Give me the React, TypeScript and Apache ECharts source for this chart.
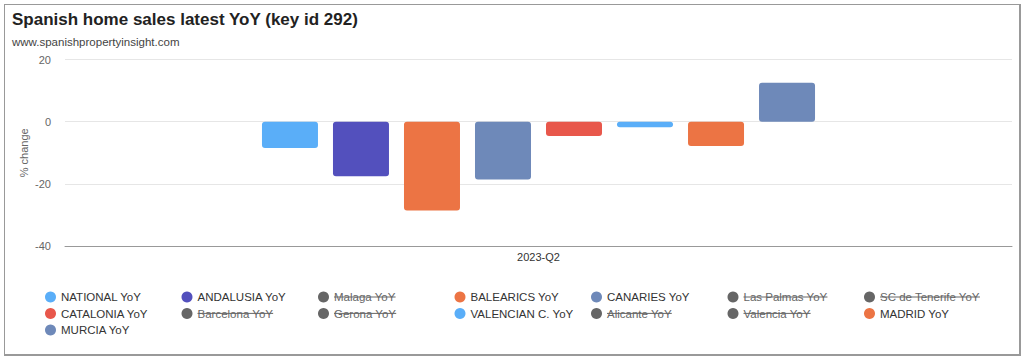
import React, { useEffect, useRef } from "react";
import * as echarts from "echarts";

const categories = ["2023-Q2"];
const seriesNames = [
  "NATIONAL YoY",
  "ANDALUSIA YoY",
  "Malaga YoY",
  "BALEARICS YoY",
  "CANARIES YoY",
  "Las Palmas YoY",
  "SC de Tenerife YoY",
  "CATALONIA YoY",
  "Barcelona YoY",
  "Gerona YoY",
  "VALENCIAN C. YoY",
  "Alicante YoY",
  "Valencia YoY",
  "MADRID YoY",
  "MURCIA YoY",
];
const seriesValues: (number | null)[] = [
  -8.5, -17.6, null, -28.6, -18.6, null, null, -4.6, null, null, -1.8, null, null, -7.8, 12.5,
];
const seriesVisible = [
  true, true, false, true, true, false, false, true, false, false, true, false, false, true, true,
];
const seriesColors = [
  "#5aaef8", "#5350bd", "#2bc76e", "#ec7444", "#6e89b9", "#d568fb", "#2ee0ca",
  "#e8574b", "#feb56a", "#91e8e1", "#5aaef8", "#544fc5", "#00e272", "#ec7444", "#6e89b9",
];
const yTicks = { min: -40, max: 20, interval: 20 };

const FONT = "'Liberation Sans', Arial, Helvetica, sans-serif";
const LEG_FS = 11.5;
const LEG_LEFT = 45;
const LEG_TOP = 290;
const COL_W = 136.5;
const ROW_H = 16.4;
const ICON = 11;
const TEXT_W = 118;
const LEG_GAP = COL_W - ICON - 5 - TEXT_W;

export default function App() {
  const ref = useRef<HTMLDivElement>(null);
  useEffect(() => {
    if (!ref.current) return;
    const chart = echarts.init(ref.current, undefined, { renderer: "svg" });

    const canvas = document.createElement("canvas");
    const ctx = canvas.getContext("2d")!;
    ctx.font = `${LEG_FS}px ${FONT}`;
    const strikes: any[] = [];
    seriesNames.forEach((name, i) => {
      if (seriesVisible[i]) return;
      const col = i % 7;
      const row = Math.floor(i / 7);
      const x0 = LEG_LEFT + col * COL_W + ICON + 5;
      const w = ctx.measureText(name).width;
      const y = LEG_TOP + row * ROW_H + 7;
      strikes.push({
        type: "line",
        silent: true,
        shape: { x1: x0, y1: y, x2: x0 + w, y2: y },
        style: { stroke: "#666", lineWidth: 1 },
        z: 100,
      });
    });

    const selected: Record<string, boolean> = {};
    seriesNames.forEach((n, i) => (selected[n] = seriesVisible[i]));

    chart.setOption({
      animation: false,
      textStyle: { fontFamily: FONT },
      title: {
        text: "Spanish home sales latest YoY (key id 292)",
        subtext: "www.spanishpropertyinsight.com",
        left: 12,
        top: 9.5,
        padding: 0,
        itemGap: 5.5,
        textStyle: { fontSize: 17, fontWeight: "bold", color: "#222", lineHeight: 20 },
        subtextStyle: { fontSize: 11.5, color: "#444", lineHeight: 14 },
      },
      legend: {
        left: LEG_LEFT,
        top: LEG_TOP,
        width: 960,
        padding: 0,
        itemGap: LEG_GAP,
        itemWidth: ICON,
        itemHeight: ICON,
        icon: "circle",
        inactiveColor: "#666",
        selected,
        textStyle: {
          fontSize: LEG_FS,
          color: "#333",
          width: TEXT_W,
          overflow: "truncate",
          lineHeight: 14,
        },
        data: seriesNames,
      },
      grid: { left: 65, right: 12, top: 59.5, bottom: 114, containLabel: false },
      xAxis: {
        type: "category",
        data: categories,
        axisLine: { onZero: false, lineStyle: { color: "#999", width: 1 } },
        axisTick: { show: false },
        axisLabel: { fontSize: 11, color: "#333", margin: 5 },
      },
      yAxis: {
        type: "value",
        min: yTicks.min,
        max: yTicks.max,
        interval: yTicks.interval,
        name: "% change",
        nameLocation: "middle",
        nameGap: 36,
        nameMoveOverlap: false,
        nameTextStyle: { fontSize: 11, color: "#666" },
        axisLine: { show: false },
        axisTick: { show: false },
        axisLabel: { fontSize: 11, color: "#666", margin: 14 },
        splitLine: { lineStyle: { color: "#e6e6e6", width: 1 } },
      },
      series: seriesNames.map((name, i) => ({
        name,
        type: "bar",
        data: [seriesValues[i]],
        barWidth: 56,
        barGap: "26.8%",
        itemStyle: { color: seriesColors[i], borderRadius: 3 },
      })),
      graphic: strikes,
    });
    return () => chart.dispose();
  }, []);

  return (
    <div style={{ position: "fixed", left: 0, top: 0, width: 1024, height: 360, background: "#fff" }}>
      <div
        style={{
          position: "absolute",
          left: 4,
          top: 4,
          width: 1014,
          height: 349,
          border: "1px solid #999",
          borderRightWidth: 2,
          borderBottomWidth: 2,
        }}
      />
      <div ref={ref} style={{ position: "absolute", left: 0, top: 0, width: 1024, height: 360 }} />
    </div>
  );
}
